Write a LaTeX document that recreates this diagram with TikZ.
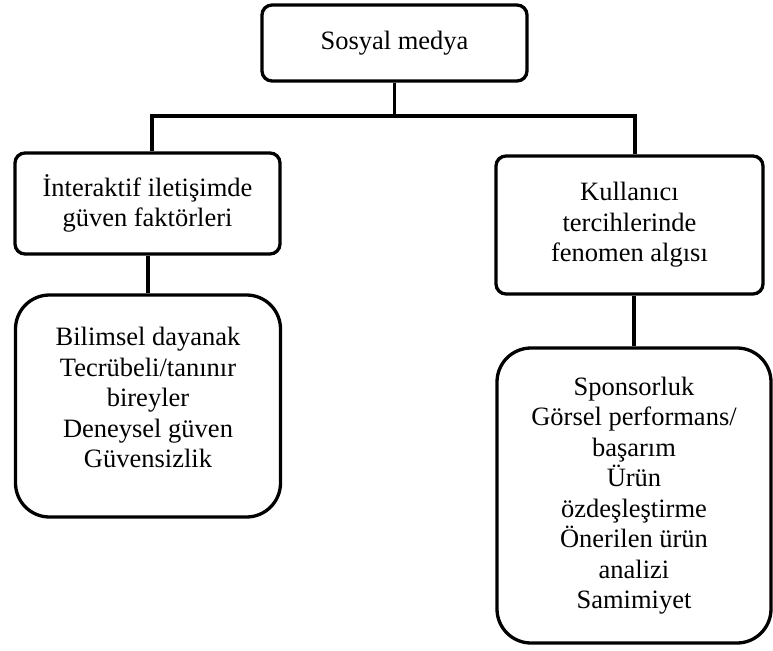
\documentclass[tikz,border=0pt]{standalone}
\usepackage{fontspec}
\setmainfont{Liberation Serif}
\usetikzlibrary{positioning,calc}
\tikzset{
  kutu/.style={draw,line width=3.3pt,rounded corners=10pt,align=center,inner sep=2pt},
  govde/.style={draw,line width=3.3pt,rounded corners=34pt,align=center,inner sep=2pt},
  bag/.style={line width=3.3pt},
}

\begin{document}
\begin{tikzpicture}[x=1pt,y=-1pt,font=\fontsize{26.5}{30.5}\selectfont]
  \useasboundingbox (0,0) rectangle (773,650);
  \node[kutu,minimum width=265pt,minimum height=76pt] (sosyal) at (394.5,43) {Sosyal medya};
  \node[kutu,minimum width=265pt,minimum height=101pt] (ileti) at (147.5,203.5)
    {İnteraktif iletişimde\\güven faktörleri};
  \node[kutu,minimum width=267pt,minimum height=138pt] (kull) at (629.5,225)
    {Kullanıcı\\tercihlerinde\\fenomen algısı};
  \node[govde,minimum width=265pt,minimum height=222pt,text depth=17pt] (guven) at (148,406)
    {Bilimsel dayanak\\Tecrübeli/tanınır\\bireyler\\Deneysel güven\\Güvensizlik};
  \node[govde,minimum width=274pt,minimum height=295pt] (algi) at (634,495.5)
    {Sponsorluk\\Görsel performans/\\başarım\\Ürün\\özdeşleştirme\\Önerilen ürün\\analizi\\Samimiyet};
  % yatay bag
  \coordinate (barL) at (152,116);
  \coordinate (barR) at (635,116);
  \draw[bag] (sosyal.south) -- (sosyal.south |- barL);
  \draw[bag] (ileti.north -| barL) -- (barL) -- (barR) -- (kull.north -| barR);
  \draw[bag] (ileti.south -| guven.north) -- (guven.north);
  \draw[bag] (kull.south -| algi.north) -- (algi.north);
\end{tikzpicture}
\end{document}
